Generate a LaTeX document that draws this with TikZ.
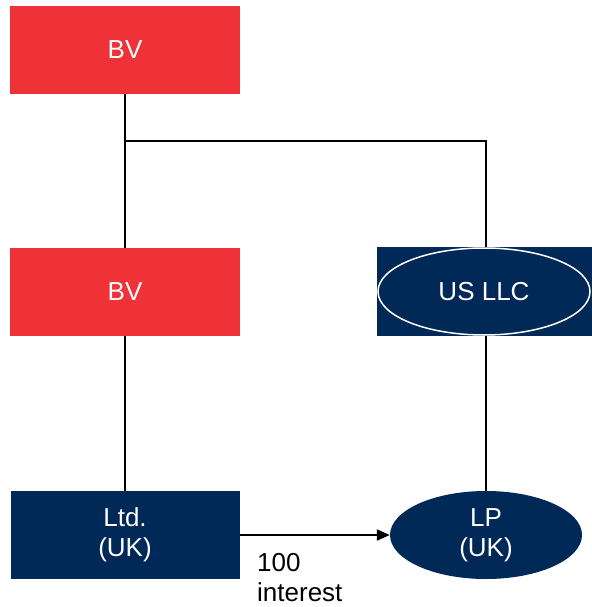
\documentclass[tikz,border=0pt]{standalone}
\usepackage{fontspec}
\setmainfont{Liberation Sans}
\usetikzlibrary{shapes.geometric,arrows.meta}
\definecolor{bvred}{RGB}{238,50,56}
\definecolor{navy}{RGB}{0,41,87}
\begin{document}
\begin{tikzpicture}[x=1pt,y=-1pt,
  lbl/.style={font=\fontsize{26}{30}\selectfont},
  redbox/.style={lbl,rectangle,fill=bvred,text=white,minimum width=230pt,minimum height=88pt,inner sep=0pt,align=center},
  navybox/.style={lbl,rectangle,fill=navy,text=white,minimum width=229pt,minimum height=88pt,inner sep=0pt,align=center},
  navyoval/.style={lbl,ellipse,fill=navy,text=white,minimum width=192pt,minimum height=88pt,inner sep=0pt,align=center},
  link/.style={draw=black,line width=2pt}]
\useasboundingbox (0,0) rectangle (591,607);

% entities
\node[redbox] (bv1) at (125,50) {BV};
\node[redbox] (bv2) at (125,292) {BV};
\node[navybox,minimum width=216pt,minimum height=89pt] (llc) at (485,291.5) {};
\node[ellipse,draw=white,line width=1.5pt,minimum width=212pt,minimum height=87pt,inner sep=0pt,lbl,text=white] (llcoval) at (484,291.5) {US LLC};
\node[navybox] (ltd) at (125,535) {Ltd.\\(UK)};
\node[navyoval] (lp) at (486,535) {LP\\(UK)};

% ownership lines
\coordinate (jl) at (125,141);
\coordinate (jr) at (486,141);
\draw[link] (bv1.south) -- (bv2.north);
\draw[link] (jl) -- (jr) -- (jr |- llc.north);
\draw[link] (bv2.south) -- (ltd.north);
\draw[link] (jr |- llc.south) -- (lp.north);

% interest arrow
\draw[link,-{Triangle[length=13pt,width=11pt]}] (ltd.east) -- (lp.west);
\node[lbl,anchor=north west,align=left,inner sep=0pt] (int) at (257,553) {100\\interest};
\end{tikzpicture}
\end{document}
